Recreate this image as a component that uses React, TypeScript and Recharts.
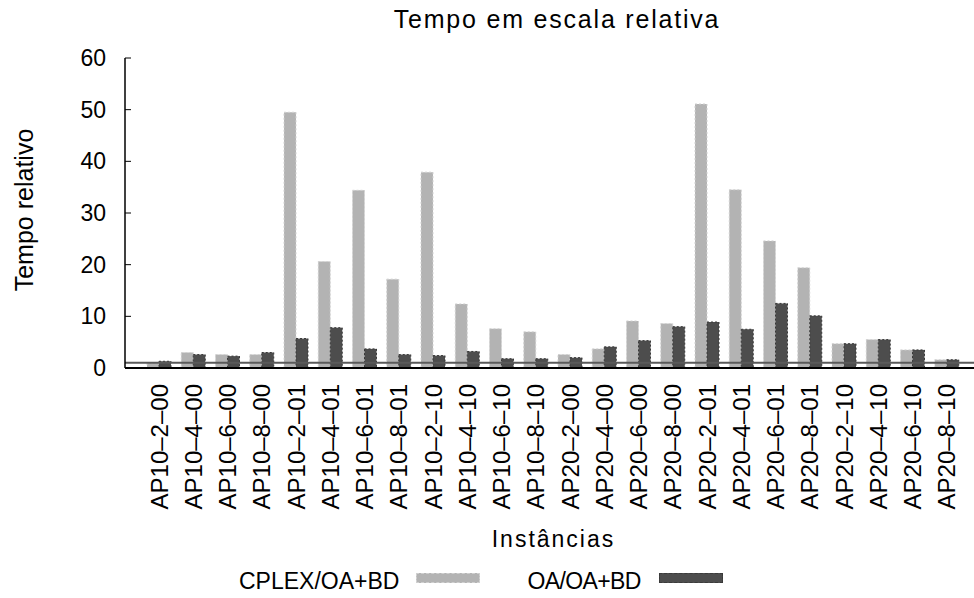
import React from 'react'
import { BarChart, Bar, XAxis, YAxis, ReferenceLine, Legend } from 'recharts'

const instancias = [
  'AP10–2–00', 'AP10–4–00', 'AP10–6–00', 'AP10–8–00',
  'AP10–2–01', 'AP10–4–01', 'AP10–6–01', 'AP10–8–01',
  'AP10–2–10', 'AP10–4–10', 'AP10–6–10', 'AP10–8–10',
  'AP20–2–00', 'AP20–4–00', 'AP20–6–00', 'AP20–8–00',
  'AP20–2–01', 'AP20–4–01', 'AP20–6–01', 'AP20–8–01',
  'AP20–2–10', 'AP20–4–10', 'AP20–6–10', 'AP20–8–10',
]

const cplexOaBd = [1.0, 3.0, 2.6, 2.6, 49.5, 20.6, 34.4, 17.2, 37.9, 12.4, 7.6, 7.0, 2.6, 3.7, 9.1, 8.6, 51.1, 34.5, 24.6, 19.4, 4.7, 5.5, 3.5, 1.6]
const oaOaBd = [1.3, 2.6, 2.3, 3.0, 5.7, 7.8, 3.7, 2.6, 2.4, 3.2, 1.8, 1.8, 2.0, 4.1, 5.3, 8.0, 8.9, 7.5, 12.5, 10.1, 4.7, 5.5, 3.5, 1.6]

const yTicks = [0, 10, 20, 30, 40, 50, 60]
const referencia = 1

const data = instancias.map((name, i) => ({
  name,
  cplex: cplexOaBd[i],
  oa: oaOaBd[i],
}))

const FONT = '"Liberation Sans", Arial, Helvetica, sans-serif'

const XTick = (props: any) => {
  const { x, y, payload } = props
  return (
    <g transform={`translate(${x},${y})`}>
      <text transform="rotate(-90)" textAnchor="end" dy="0.35em" fontSize={24} fill="#000" fontFamily={FONT}>
        {payload.value}
      </text>
    </g>
  )
}

// legenda: texto seguido da amostra, como no gnuplot
const renderLegend = (props: any) => {
  const { payload } = props
  return (
    <div style={{ height: 40, display: 'flex', alignItems: 'center', paddingLeft: 239, paddingTop: 6, boxSizing: 'border-box', fontFamily: FONT }}>
      {payload.map((entry: any, i: number) => (
        <div key={entry.value} style={{ display: 'flex', alignItems: 'center', marginLeft: i === 0 ? 0 : 47 }}>
          <span style={{ fontSize: 23, lineHeight: '23px', color: '#000', letterSpacing: i === 0 ? 0 : '-0.6px' }}>{entry.value}</span>
          <span
            style={{
              display: 'inline-block',
              width: 64,
              height: 10,
              marginLeft: i === 0 ? 17 : 18,
              position: 'relative',
              top: -3,
              background: entry.color,
              outline: i === 0 ? '1px dashed #d0d0d0' : '1px dashed #3a3a3a',
              outlineOffset: -1,
            }}
          />
        </div>
      ))}
    </div>
  )
}

export default function App() {
  return (
    <div style={{ position: 'absolute', left: 0, top: 0, width: 974, height: 598, background: '#fff', fontFamily: FONT }}>
      <div
        style={{
          position: 'absolute',
          top: 7,
          left: 557,
          transform: 'translateX(-50%)',
          fontSize: 25,
          lineHeight: '25px',
          letterSpacing: '1.8px',
          whiteSpace: 'nowrap',
          color: '#000',
          zIndex: 2,
        }}
      >
        Tempo em escala relativa
      </div>
      <BarChart
        width={974}
        height={598}
        data={data}
        margin={{ top: 58, right: 0, bottom: 0, left: 0 }}
        barCategoryGap="30%"
        barGap={0}
      >
        <XAxis
          dataKey="name"
          interval={0}
          height={190}
          padding={{ left: 17, right: 10 }}
          tickLine={false}
          tickSize={6}
          tickMargin={10}
          tick={<XTick />}
          axisLine={{ stroke: '#000', strokeWidth: 2 }}
          label={{
            content: (p: any) => {
              const vb = p.viewBox
              return (
                <text
                  x={vb.x + vb.width / 2 + 4}
                  y={vb.y + vb.height - 11}
                  textAnchor="middle"
                  fontSize={23}
                  fill="#000"
                  fontFamily={FONT}
                  style={{ letterSpacing: '2px' }}
                >
                  Instâncias
                </text>
              )
            },
          }}
        />
        <YAxis
          width={125}
          domain={[0, 60]}
          ticks={yTicks}
          interval={0}
          tickSize={-6}
          tickMargin={25}
          tick={{ fontSize: 23, fill: '#000', fontFamily: FONT }}
          tickLine={{ stroke: '#000', strokeWidth: 1 }}
          axisLine={{ stroke: '#000', strokeWidth: 1.5 }}
          label={{
            content: (p: any) => {
              const vb = p.viewBox
              const x = vb.x + 24
              const y = vb.y + vb.height / 2 - 3
              return (
                <text
                  x={x}
                  y={y}
                  transform={`rotate(-90, ${x}, ${y})`}
                  textAnchor="middle"
                  dy="0.35em"
                  fontSize={25}
                  fill="#000"
                  fontFamily={FONT}
                >
                  Tempo relativo
                </text>
              )
            },
          }}
        />
        <Legend verticalAlign="bottom" content={renderLegend} />
        <Bar
          dataKey="cplex"
          name="CPLEX/OA+BD"
          fill="#b3b3b3"
          stroke="#d2d2d2"
          strokeDasharray="2 2"
          strokeWidth={1}
          barSize={12}
          isAnimationActive={false}
        />
        <Bar
          dataKey="oa"
          name="OA/OA+BD"
          fill="#4d4d4d"
          stroke="#383838"
          strokeDasharray="2 2"
          strokeWidth={1}
          barSize={12}
          isAnimationActive={false}
        />
        <ReferenceLine y={referencia} stroke="#5a5a5a" strokeWidth={2} />
      </BarChart>
    </div>
  )
}
